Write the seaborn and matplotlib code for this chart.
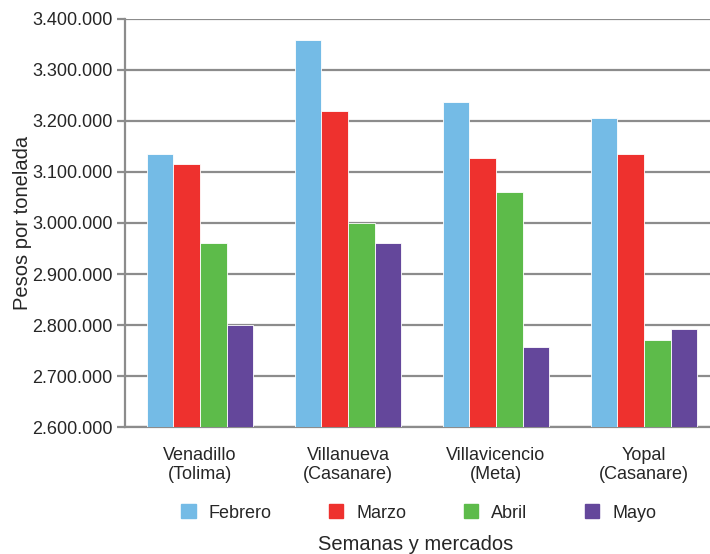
import matplotlib
matplotlib.use('Agg')
import matplotlib.pyplot as plt
import matplotlib.ticker as mticker
import pandas as pd
import seaborn as sns

# datos
mercados = ['Venadillo\n(Tolima)', 'Villanueva\n(Casanare)', 'Villavicencio\n(Meta)', 'Yopal\n(Casanare)']
meses = ['Febrero', 'Marzo', 'Abril', 'Mayo']
febrero = [3135000, 3358000, 3238000, 3205000]
marzo = [3115000, 3219000, 3128000, 3135000]
abril = [2960000, 3000000, 3060000, 2771000]
mayo = [2800000, 2960000, 2757000, 2792000]
colores = ['#74BBE6', '#EE312E', '#5DBB4A', '#64479B']

filas = []
for mes, valores in zip(meses, [febrero, marzo, abril, mayo]):
    for m, v in zip(mercados, valores):
        filas.append({'mercado': m, 'mes': mes, 'valor': v})
df = pd.DataFrame(filas)

sns.set_style('white')
plt.rcParams['font.family'] = ['Liberation Sans', 'DejaVu Sans']

fig = plt.figure(figsize=(7.1, 5.54), dpi=100)
ax = fig.add_axes([0.176, 0.229, 0.824, 0.737])

sns.barplot(data=df, x='mercado', y='valor', hue='mes', hue_order=meses,
            palette=colores, width=0.72, edgecolor='white', linewidth=0.6,
            saturation=1, ax=ax, legend=False, zorder=3)

ax.set_ylim(2600000, 3400000)
ax.set_yticks(range(2600000, 3400001, 100000))
ax.yaxis.set_major_formatter(mticker.FuncFormatter(lambda v, p: f'{int(v):,}'.replace(',', '.')))
ax.set_xlim(-0.507, 3.446)

ax.grid(axis='y', color='#8c8c8c', linewidth=1.6, zorder=0)
ax.set_axisbelow(True)
for s in ['top', 'right']:
    ax.spines[s].set_visible(False)
ax.spines['left'].set_color('#8c8c8c')
ax.spines['left'].set_linewidth(1.6)
ax.spines['bottom'].set_color('#8c8c8c')
ax.spines['bottom'].set_linewidth(1.6)
ax.tick_params(axis='y', length=6, width=1.6, color='#8c8c8c', labelsize=13, pad=3, left=True)
ax.tick_params(axis='x', length=0, labelsize=13, pad=14)
for t in ax.get_xticklabels():
    t.set_linespacing(1.2)

ax.set_xlabel('')
ax.set_ylabel('Pesos por tonelada', fontsize=14.5, labelpad=0)

handles = [plt.Rectangle((0, 0), 1, 1, color=c) for c in colores]
fig.legend(handles, meses, ncol=4, loc='center', bbox_to_anchor=(0.590, 0.074),
           frameon=False, fontsize=13, handlelength=0.78, handleheight=0.78,
           columnspacing=3.2, handletextpad=0.72)

fig.text(0.586, 0.018, 'Semanas y mercados', ha='center', va='center', fontsize=14.5)

fig.savefig('out.png', dpi=100)
